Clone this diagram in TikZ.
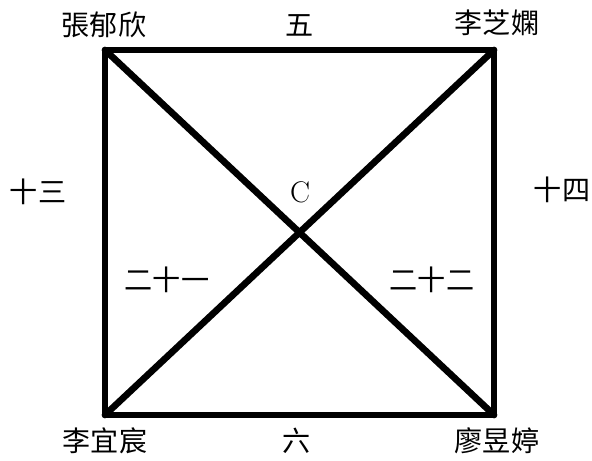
\documentclass[tikz,border=0pt]{standalone}
\usepackage{fontspec}
\newfontfamily\cjk{Noto Sans CJK TC}
\usetikzlibrary{positioning}

\begin{document}
\begin{tikzpicture}[
    every node/.style={font=\fontsize{16}{19}\selectfont\cjk, inner sep=1pt},
    edge/.style={line width=3.8pt, line join=round, line cap=round},
    lettername/.style={font=\fontsize{17}{20}\selectfont\rmfamily}
]
    \useasboundingbox (0,0) rectangle (11.84,9.22);

    % Corners
    \coordinate (tl) at (2.10, 8.22);
    \coordinate (tr) at (9.88, 8.22);
    \coordinate (br) at (9.88, 0.92);
    \coordinate (bl) at (2.10, 0.92);

    % Names at corners
    \node (zhang) at (2.08, 8.72) {張郁欣};
    \node (lizhi) at (9.94, 8.76) {李芝嫻};
    \node (liyi)  at (2.10, 0.40) {李宜宸};
    \node (liao)  at (9.94, 0.40) {廖昱婷};

    % Side numbers
    \node (top)    at (6.00, 8.72) {五};
    \node (bottom) at (5.94, 0.40) {六};
    \node (left)   at (0.76, 5.38) {十三};
    \node (right)  at (11.24, 5.42) {十四};

    % Middle
    \node (c) [lettername] at (6.00, 5.38) {C};
    \node (twentyone) at (3.34, 3.62) {二十一};
    \node (twentytwo) at (8.64, 3.62) {二十二};

    % Connections
    \draw [edge] (tl) -- (tr) -- (br) -- (bl) -- cycle;
    \draw [edge] (tl) -- (br);
    \draw [edge] (tr) -- (bl);

\end{tikzpicture}
\end{document}
